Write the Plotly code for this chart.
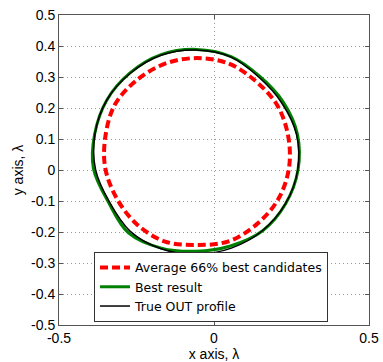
import plotly.graph_objects as go

# Average 66% best candidates (red dashed)
avg_x = [-0.055, 0.048, 0.135, 0.204, 0.239, 0.242, 0.208, 0.140, 0.050, -0.055,
         -0.160, -0.250, -0.314, -0.351, -0.350, -0.319, -0.249, -0.158, -0.055]
avg_y = [0.361, 0.343, 0.286, 0.209, 0.111, 0.007, -0.093, -0.173, -0.229, -0.242,
         -0.230, -0.174, -0.091, 0.007, 0.111, 0.212, 0.290, 0.343, 0.361]

# Best result (green)
best_x = [-0.057, 0.055, 0.148, 0.223, 0.269, 0.271, 0.231, 0.157, 0.053, -0.057,
          -0.170, -0.276, -0.340, -0.389, -0.385, -0.346, -0.271, -0.171, -0.057]
best_y = [0.389, 0.366, 0.302, 0.220, 0.116, 0.000, -0.109, -0.196, -0.245, -0.262,
          -0.252, -0.203, -0.105, 0.005, 0.116, 0.225, 0.313, 0.372, 0.389]

# True OUT profile (black)
true_x = [-0.057, 0.055, 0.145, 0.218, 0.266, 0.270, 0.231, 0.156, 0.056, -0.057,
          -0.171, -0.271, -0.337, -0.382, -0.384, -0.346, -0.270, -0.171, -0.057]
true_y = [0.387, 0.364, 0.299, 0.217, 0.115, 0.000, -0.108, -0.196, -0.252, -0.272,
          -0.254, -0.197, -0.104, 0.001, 0.116, 0.225, 0.312, 0.370, 0.387]

x_ticks = [-0.5, 0, 0.5]
x_tick_labels = ["-0.5", "0", "0.5"]
y_ticks = [-0.5, -0.4, -0.3, -0.2, -0.1, 0, 0.1, 0.2, 0.3, 0.4, 0.5]
y_tick_labels = ["-0.5", "-0.4", "-0.3", "-0.2", "-0.1", "0", "0.1", "0.2", "0.3", "0.4", "0.5"]

FONT = "Liberation Sans, Arial, sans-serif"
LEGEND_FONT = "DejaVu Sans, Liberation Sans, sans-serif"

fig = go.Figure()
fig.add_trace(go.Scatter(x=avg_x, y=avg_y, mode="lines", name="Average 66% best candidates",
                         line=dict(color="#FF0000", width=4, dash="8px,4px", shape="spline")))
fig.add_trace(go.Scatter(x=best_x, y=best_y, mode="lines", name="Best result",
                         line=dict(color="#008000", width=3, shape="spline")))
fig.add_trace(go.Scatter(x=true_x, y=true_y, mode="lines", name="True OUT profile",
                         line=dict(color="#000000", width=1.5, shape="spline")))

axis_common = dict(
    showline=True, linecolor="#555555", linewidth=1, mirror="ticks",
    ticks="inside", ticklen=4, tickcolor="#555555",
    showgrid=True, gridcolor="#999999", griddash="1px,3px", gridwidth=1,
    zeroline=False, automargin=False,
    tickfont=dict(family=FONT, size=14, color="#000000"),
)

fig.update_xaxes(range=[-0.5, 0.5], tickvals=x_ticks, ticktext=x_tick_labels,
                 title=dict(text="x axis, λ", font=dict(family=FONT, size=14, color="#000000"), standoff=0),
                 **axis_common)
fig.update_yaxes(range=[-0.5, 0.5], tickvals=y_ticks, ticktext=y_tick_labels,
                 title=dict(text="y axis, λ", font=dict(family=FONT, size=14, color="#000000"), standoff=4),
                 **axis_common)

fig.update_layout(
    width=383, height=362,
    margin=dict(l=59, r=14, t=15, b=37),
    plot_bgcolor="white", paper_bgcolor="white",
    font=dict(family=FONT, size=14, color="#000000"),
    legend=dict(x=0.113, y=0.01, xanchor="left", yanchor="bottom",
                bgcolor="white", bordercolor="#333333", borderwidth=1,
                font=dict(family=LEGEND_FONT, size=12.5, color="#000000"),
                tracegroupgap=0, itemwidth=30),
    showlegend=True,
)

fig.write_html("out.html")
